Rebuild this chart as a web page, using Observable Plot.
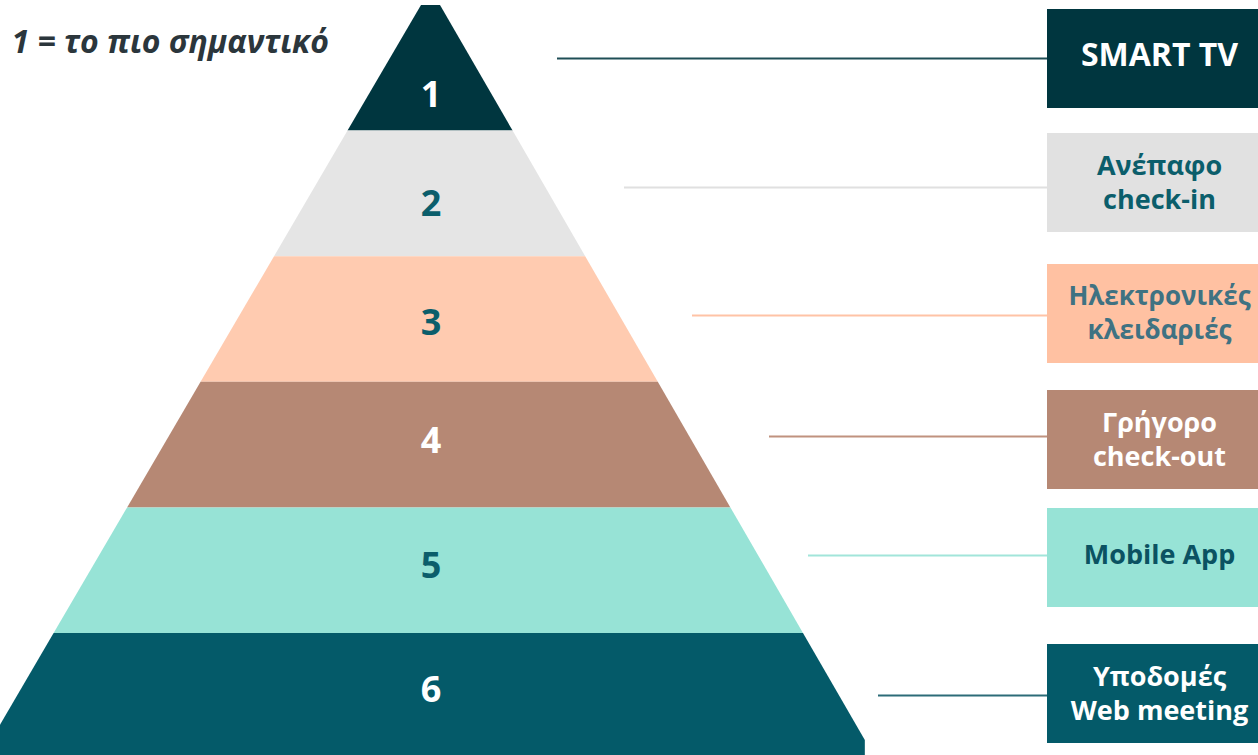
<!DOCTYPE html>
<html>
<head>
<meta charset="utf-8">
<script src="https://cdn.jsdelivr.net/npm/d3@7"></script>
<script src="https://cdn.jsdelivr.net/npm/@observablehq/plot@0.6"></script>
<style>
  html, body { margin: 0; padding: 0; background: #ffffff; }
  #chart svg { display: block; }
</style>
</head>
<body>
<div id="chart"></div>
<script>
// ---- data ----
const ranks = [1, 2, 3, 4, 5, 6];
const features = [
  "SMART TV",
  "Ανέπαφο\ncheck-in",
  "Ηλεκτρονικές\nκλειδαριές",
  "Γρήγορο\ncheck-out",
  "Mobile App",
  "Υποδομές\nWeb meeting"
];
const note = "1 = το πιο σημαντικό";

// ---- styles ----
const layerFill  = ["#00363f", "#e5e5e5", "#ffcbb0", "#b68874", "#97e3d6", "#045a69"];
const numberFill = ["#ffffff", "#0b5e6b", "#0b5e6b", "#ffffff", "#0b5e6b", "#ffffff"];
const boxFill    = ["#00363f", "#e1e1e1", "#ffc1a2", "#b68874", "#97e3d6", "#045a69"];
const labelFill  = ["#ffffff", "#0b5e6b", "#3f7282", "#ffffff", "#0b5262", "#ffffff"];
const labelSize  = [32, 27, 26, 27, 27, 27];
const lineGap = 33.8; // px between label lines
const lineStroke = ["#1f4e56", "#e0e0e0", "#ffc3a6", "#c0927f", "#a2e5da", "#2c6c78"];

// ---- layout (pixel space) ----
const W = 1258, H = 755;
const pyr = {top: 5, step: 125.6, leftApex: 421, rightApex: 440, leftSlope: 0.585, rightSlope: 0.578, slantEnd: 740, base: 755};
const leftAt  = y => pyr.leftApex  - pyr.leftSlope  * (y - pyr.top);
const rightAt = y => pyr.rightApex + pyr.rightSlope * (y - pyr.top);
const numberY = [95, 204, 323, 441, 566, 690];
const boxTop = [9, 133, 264, 390, 508, 644];
const boxH = 99, boxX1 = 1047, boxX2 = W, labelX = 1159;
const lineStart = [557, 624, 692, 769, 808, 878];
const lineY = [58, 187, 315, 436, 555, 695];

const pts = [];
ranks.forEach((k, i) => {
  const y0 = pyr.top + i * pyr.step;
  const y1 = k === ranks.length ? pyr.slantEnd : pyr.top + (i + 1) * pyr.step;
  pts.push({k, y: y0, x1: leftAt(y0), x2: rightAt(y0)});
  pts.push({k, y: y1, x1: leftAt(y1), x2: rightAt(y1)});
  if (k === ranks.length) pts.push({k, y: pyr.base, x1: leftAt(y1), x2: rightAt(y1)});
});

const nums = ranks.map((k, i) => ({k, x: (leftAt(pyr.top) + rightAt(pyr.top)) / 2, y: numberY[i]}));

const boxes = ranks.map((k, i) => ({k, y1: boxTop[i], y2: boxTop[i] + boxH}));
// one text per label line
const labelLines = [];
ranks.forEach((k, i) => {
  const parts = features[i].split("\n");
  const yc = boxTop[i] + boxH / 2 - (parts.length === 1 ? 3 : 0);
  parts.forEach((t, j) => labelLines.push({k, text: t, y: yc + (j - (parts.length - 1) / 2) * lineGap}));
});
const links = ranks.map((k, i) => ({k, x1: lineStart[i], x2: boxX1, y: lineY[i]}));

const chart = Plot.plot({
  width: W,
  height: H,
  margin: 0,
  x: {domain: [0, W], range: [0, W], axis: null},
  y: {domain: [0, H], range: [0, H], axis: null},
  color: {type: "identity"},
  style: {fontFamily: "'Open Sans', sans-serif", background: "#ffffff"},
  marks: [
    Plot.areaX(pts, {y: "y", x1: "x1", x2: "x2", z: "k", fill: d => layerFill[d.k - 1], curve: "linear", clip: true}),
    Plot.text(nums, {x: "x", y: "y", text: d => String(d.k), fill: d => numberFill[d.k - 1], fontSize: 36, fontWeight: "bold", textAnchor: "middle"}),
    Plot.ruleY(links, {y: "y", x1: "x1", x2: "x2", stroke: d => lineStroke[d.k - 1], strokeWidth: 2}),
    Plot.rect(boxes, {x1: boxX1, x2: boxX2, y1: "y1", y2: "y2", fill: d => boxFill[d.k - 1]}),
    Plot.text(labelLines, {x: labelX, y: "y", text: "text", fill: d => labelFill[d.k - 1],
      fontSize: d => labelSize[d.k - 1], fontWeight: "bold", textAnchor: "middle"}),
    Plot.text([note], {frameAnchor: "top-left", dx: 11, dy: 42, text: d => d, textAnchor: "start",
      lineAnchor: "middle", fontSize: 32, fontWeight: "bold", fontStyle: "italic", fill: "#2b363c"})
  ]
});
document.getElementById("chart").appendChild(chart);
</script>
</body>
</html>
